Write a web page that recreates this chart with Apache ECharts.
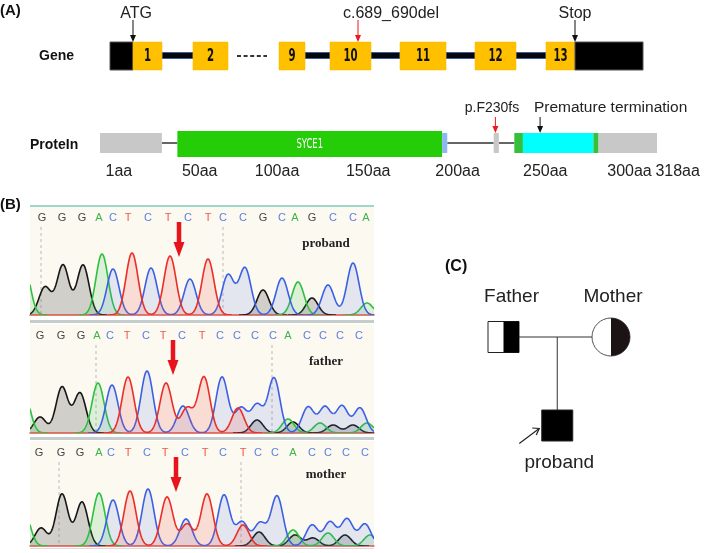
<!DOCTYPE html>
<html><head><meta charset="utf-8">
<script src="https://cdn.jsdelivr.net/npm/echarts@6/dist/echarts.min.js"></script>
<style>html,body{margin:0;padding:0;background:#fff}#c{width:709px;height:553px}</style>
</head><body><div id="c"></div>
<script>
// ---------- Panel A: gene (schematic units) ----------
const geneBlockStart = [0, 23, 83, 169, 220, 290, 365, 436, 465];
const geneBlockEnd   = [23, 52, 118, 195, 261, 336, 406, 465, 533];
const geneBlockType  = ['utr','exon','exon','exon','exon','exon','exon','exon','utr'];
const geneBlockLabel = ['', '1', '2', '9', '10', '11', '12', '13', ''];
const geneIntrons = [[52, 83], [195, 220], [261, 290], [336, 365], [406, 436]];
const geneGap = [[127, 157]];
const geneMarkPos = [23, 248, 465];
const geneMarkTextPos = [26, 281, 465];
const geneMarkText = ['ATG', 'c.689_690del', 'Stop'];
const geneMarkKind = ['site', 'mutation', 'site'];

// ---------- Panel A: protein (aa, schematic) ----------
const protDomainStart = [-8, 37, 191, 221, 233, 238, 279, 282];
const protDomainEnd   = [28, 191, 194, 224, 238, 279, 282, 316];
const protDomainType  = ['region', 'SYCE1', 'linker', 'region', 'edge', 'frameshift', 'edge', 'region'];
const protLinks = [[28, 37], [194, 221], [224, 233]];
const aaTickLabels = ['1aa', '50aa', '100aa', '150aa', '200aa', '250aa', '300aa', '318aa'];
const aaTickPos = [3, 50, 95, 148, 200, 251, 300, 328];
const protMarkPos = [222, 248];
const protMarkTextPos = [220, 289];
const protMarkText = ['p.F230fs', 'Premature termination'];
const protMarkKind = ['mutation', 'site'];

// ---------- Panel B: chromatograms ----------
const probandBases = ['G','G','G','A','C','T','C','T','C','T','C','C','G','C','A','G','C','C','A'];
const probandBasePos = [12,32,52,69,83,98,118,138,158,178,193,213,233,252,265,282,303,323,336];
const probandG = [[15,28],[33,50],[53,50],[233,25],[282,17]];
const probandA = [[-6,50],[72,61],[268,33],[337,12]];
const probandC = [[83,46],[121,47],[160,36],[198,40],[215,47],[252,37],[298,30],[323,52]];
const probandT = [[102,62],[140,59],[178,56]];
const probandGuides = [11, 193];
const probandArrow = [149];

const fatherBases = ['G','G','G','A','C','T','C','T','C','T','C','C','C','C','A','C','C','C','C'];
const fatherBasePos = [10,31,51,67,80,97,116,133,152,172,190,207,225,243,258,277,293,310,329];
const fatherG = [[10,16],[32,46],[50,40],[227,13],[263,11],[303,8],[323,8]];
const fatherA = [[-6,40],[68,50],[258,14],[290,10],[337,10]];
const fatherC = [[82,48],[117,62],[153,27],[192,56],[211,25],[227,28],[244,55],[278,26],[295,26],[312,27],[330,25]];
const fatherT = [[98,56],[136,50],[157,25],[174,56],[208,25]];
const fatherGuides = [66, 242];
const fatherArrow = [143];

const motherBases = ['G','G','G','A','C','T','C','T','C','T','C','T','C','C','A','C','C','C','C'];
const motherBasePos = [9,31,50,69,81,98,117,135,155,175,193,213,228,245,263,282,298,316,335];
const motherG = [[11,18],[32,52],[52,44],[229,14],[265,11],[283,8],[315,11]];
const motherA = [[-6,35],[69,53],[263,16],[298,13],[340,11]];
const motherC = [[83,46],[118,57],[156,27],[194,51],[212,24],[230,23],[247,50],[282,21],[300,24],[317,27],[335,22]];
const motherT = [[100,55],[137,49],[157,22],[177,52],[213,21]];
const motherGuides = [29, 211];
const motherArrow = [146];

// ---------- Panel C: pedigree ----------
const pedigreeNames  = ['Father', 'Mother', 'proband'];
const pedigreeX      = [0, 2, 1];
const pedigreeGen    = [0, 0, 1];
const pedigreeSex    = ['M', 'F', 'M'];
const pedigreeStatus = ['carrier', 'carrier', 'affected'];
const pedigreeLinks  = [[0, 0, 2, 0], [1, 0, 1, 1]];

// ---------- styles ----------
const SANS = '"Liberation Sans", Arial, sans-serif';
const NARROW = '"DejaVu Sans", "Liberation Sans", sans-serif';
const SERIF = '"Liberation Serif", "Times New Roman", serif';
const BASE_COLORS = {G:'#444444', A:'#3db54a', C:'#5a7fe0', T:'#ef5a4c'};
const TRACE_COLORS = {G:'#161616', A:'#2cc040', C:'#3c60e4', T:'#ea2e28'};
const TRACE_FILL = {G:'rgba(110,110,110,0.30)', A:'rgba(60,190,80,0.16)', C:'rgba(90,120,220,0.15)', T:'rgba(235,80,70,0.17)'};
const DOMAIN_STYLE = {
  region: {fill:'#c8c8c8', lo:4, hi:24},
  SYCE1: {fill:'#25cc08', lo:0, hi:26},
  linker: {fill:'#8db6f2', lo:4, hi:24},
  edge: {fill:'#35bf3a', lo:4, hi:24},
  frameshift: {fill:'#00ffff', lo:4, hi:24}
};
const MARK_COLOR = {site:'#111', mutation:'#f01818'};
const CHROM_MIN = 0, CHROM_MAX = 344;
const SIGMA = 6;

function arrowDown(x, yTop, yBot, color, shaftW, headW, headH) {
  return [
    {type:'rect', shape:{x:x - shaftW/2, y:yTop, width:shaftW, height:Math.max(0, yBot - yTop - headH + 0.5)}, style:{fill:color}},
    {type:'polygon', shape:{points:[[x - headW/2, yBot - headH], [x + headW/2, yBot - headH], [x, yBot]]}, style:{fill:color}}
  ];
}
function condensedText(text, cx, cy, size, fill, weight, sx, sy) {
  return {type:'text', x:cx, y:cy, scaleX:sx, scaleY:sy,
    style:{text:text, x:0, y:0, align:'center', verticalAlign:'middle', fill:fill, font:(weight ? weight + ' ' : '') + size + 'px ' + NARROW}};
}

const series = [];

// gene introns
series.push({type:'custom', xAxisIndex:0, yAxisIndex:0, data:geneIntrons,
  renderItem:(p, api) => {
    const a = api.coord([api.value(0), 17.5]), b = api.coord([api.value(1), 11.5]);
    return {type:'rect', shape:{x:a[0], y:a[1], width:b[0]-a[0], height:b[1]-a[1]}, style:{fill:'#06060f', stroke:'#3d5d9a', lineWidth:1}};
  }});
// gene gap dashes
series.push({type:'custom', xAxisIndex:0, yAxisIndex:0, data:geneGap,
  renderItem:(p, api) => {
    const a = api.coord([api.value(0), 14]), b = api.coord([api.value(1), 14]);
    return {type:'line', shape:{x1:a[0], y1:a[1], x2:b[0], y2:b[1]}, style:{stroke:'#333', lineWidth:2, lineDash:[4, 2.6]}};
  }});
// gene blocks
series.push({type:'custom', xAxisIndex:0, yAxisIndex:0, data:geneBlockStart.map((s, i) => [s, geneBlockEnd[i]]),
  renderItem:(p, api) => {
    const i = p.dataIndex;
    const a = api.coord([geneBlockStart[i], 28]), b = api.coord([geneBlockEnd[i], 0]);
    const isExon = geneBlockType[i] === 'exon';
    const ch = [{type:'rect', shape:{x:a[0], y:a[1], width:b[0]-a[0], height:b[1]-a[1]},
      style:{fill: isExon ? '#ffc000' : '#000', stroke: isExon ? '#f5b800' : '#555', lineWidth: isExon ? 0.5 : 1}}];
    if (geneBlockLabel[i]) ch.push(condensedText(geneBlockLabel[i], (a[0]+b[0])/2, (a[1]+b[1])/2 + 1, 15, '#111', 'bold', 0.68, 1.15));
    return {type:'group', children:ch};
  }});
// gene marks
series.push({type:'custom', xAxisIndex:0, yAxisIndex:0, data:geneMarkPos.map(v => [v, 28]),
  renderItem:(p, api) => {
    const i = p.dataIndex;
    const top = api.coord([geneMarkPos[i], 28]);
    const t = api.coord([geneMarkTextPos[i], 28]);
    const col = MARK_COLOR[geneMarkKind[i]];
    return {type:'group', children:[
      ...arrowDown(top[0], top[1] - 22, top[1], col, 1, 6, 7),
      {type:'text', style:{text:geneMarkText[i], x:t[0], y:top[1] - 28, align:'center', verticalAlign:'middle', fill:'#222', font:'16px ' + SANS}}
    ]};
  }});

// protein links
series.push({type:'custom', xAxisIndex:1, yAxisIndex:1, data:protLinks,
  renderItem:(p, api) => {
    const a = api.coord([api.value(0), 14]), b = api.coord([api.value(1), 14]);
    return {type:'line', shape:{x1:a[0], y1:a[1], x2:b[0], y2:b[1]}, style:{stroke:'#333', lineWidth:1.5}};
  }});
// protein domains
series.push({type:'custom', xAxisIndex:1, yAxisIndex:1, data:protDomainStart.map((s, i) => [s, protDomainEnd[i]]),
  renderItem:(p, api) => {
    const i = p.dataIndex;
    const st = DOMAIN_STYLE[protDomainType[i]];
    const a = api.coord([protDomainStart[i], st.hi]), b = api.coord([protDomainEnd[i], st.lo]);
    const ch = [{type:'rect', shape:{x:a[0], y:a[1], width:b[0]-a[0], height:b[1]-a[1]}, style:{fill:st.fill}}];
    if (protDomainType[i] === 'SYCE1') ch.push(condensedText('SYCE1', (a[0]+b[0])/2, (a[1]+b[1])/2, 12, '#ffffff', '', 0.7, 1.2));
    return {type:'group', children:ch};
  }});
// aa labels
series.push({type:'custom', xAxisIndex:1, yAxisIndex:1, data:aaTickPos.map(v => [v, 0]),
  renderItem:(p, api) => {
    const c = api.coord([aaTickPos[p.dataIndex], 0]);
    return {type:'text', style:{text:aaTickLabels[p.dataIndex], x:c[0], y:c[1] + 15, align:'center', verticalAlign:'middle', fill:'#222', font:'16px ' + SANS}};
  }});
// protein marks
series.push({type:'custom', xAxisIndex:1, yAxisIndex:1, data:protMarkPos.map(v => [v, 24]),
  renderItem:(p, api) => {
    const i = p.dataIndex;
    const c = api.coord([protMarkPos[i], 24]);
    const t = api.coord([protMarkTextPos[i], 26]);
    const col = MARK_COLOR[protMarkKind[i]];
    return {type:'group', children:[
      ...arrowDown(c[0], t[1] - 14, c[1], col, 1, 6, 7),
      {type:'text', style:{text:protMarkText[i], x:t[0], y:t[1] - 23, align:'center', verticalAlign:'middle', fill:'#222',
        font:(protMarkKind[i] === 'mutation' ? '14px ' : '15.5px ') + SANS}}
    ]};
  }});

// chromatogram panels
const panels = [
  {axis:2, name:'proband', bases:probandBases, pos:probandBasePos, peaks:{G:probandG, A:probandA, C:probandC, T:probandT}, guides:probandGuides, arrow:probandArrow},
  {axis:3, name:'father', bases:fatherBases, pos:fatherBasePos, peaks:{G:fatherG, A:fatherA, C:fatherC, T:fatherT}, guides:fatherGuides, arrow:fatherArrow},
  {axis:4, name:'mother', bases:motherBases, pos:motherBasePos, peaks:{G:motherG, A:motherA, C:motherC, T:motherT}, guides:motherGuides, arrow:motherArrow}
];
const PANEL_H = [109, 109, 105];

function channelRender(peaks, key) {
  return function (params, api) {
    const i = params.dataIndex;
    const pk = peaks[i][0];
    let L = pk - 4 * SIGMA, R = pk + 4 * SIGMA;
    if (i > 0) L = Math.max(L, (peaks[i - 1][0] + pk) / 2);
    if (i < peaks.length - 1) R = Math.min(R, (peaks[i + 1][0] + pk) / 2);
    L = Math.max(L, CHROM_MIN); R = Math.min(R, CHROM_MAX);
    if (R <= L) return null;
    const f = x => peaks.reduce((s, q) => s + q[1] * Math.exp(-((x - q[0]) * (x - q[0])) / (2 * SIGMA * SIGMA)), 0);
    const n = Math.max(2, Math.ceil((R - L) / 0.5));
    const pts = [];
    for (let k = 0; k <= n; k++) { const x = L + (R - L) * k / n; pts.push(api.coord([x, f(x)])); }
    const b0 = api.coord([L, 0]), b1 = api.coord([R, 0]);
    return {type:'group', children:[
      {type:'polygon', shape:{points:[b0].concat(pts, [b1])}, style:{fill:TRACE_FILL[key]}},
      {type:'polyline', shape:{points:pts}, style:{stroke:TRACE_COLORS[key], lineWidth:1.6, fill:'none'}}
    ]};
  };
}

panels.forEach((pn, k) => {
  const ax = pn.axis;
  const ymax = PANEL_H[k];
  series.push({type:'custom', xAxisIndex:ax, yAxisIndex:ax, data:pn.guides.map(v => [v, 0]),
    renderItem:(p, api) => {
      const b = api.coord([pn.guides[p.dataIndex], 0]);
      const t = api.coord([pn.guides[p.dataIndex], ymax]);
      return {type:'line', shape:{x1:b[0], y1:t[1] + 21, x2:b[0], y2:b[1]}, style:{stroke:'#b8b8b8', lineWidth:1, lineDash:[3, 3]}};
    }});
  ['G', 'A', 'C', 'T'].forEach(key => {
    const pk = pn.peaks[key];
    series.push({type:'custom', xAxisIndex:ax, yAxisIndex:ax, clip:true, data:pk, renderItem:channelRender(pk, key)});
  });
  series.push({type:'custom', xAxisIndex:ax, yAxisIndex:ax, data:pn.pos.map(v => [v, 0]),
    renderItem:(p, api) => {
      const c = api.coord([pn.pos[p.dataIndex], ymax]);
      const b = pn.bases[p.dataIndex];
      return {type:'text', style:{text:b, x:c[0], y:c[1] + 12, align:'center', verticalAlign:'middle', fill:BASE_COLORS[b], font:'11px ' + SANS}};
    }});
  series.push({type:'custom', xAxisIndex:ax, yAxisIndex:ax, data:pn.arrow.map(v => [v, 0]),
    renderItem:(p, api) => {
      const t = api.coord([pn.arrow[p.dataIndex], ymax]);
      return {type:'group', children:arrowDown(t[0], t[1] + 16, t[1] + 51, '#e8141c', 4.5, 11, 15)};
    }});
  series.push({type:'custom', xAxisIndex:ax, yAxisIndex:ax, data:[[296, 71]],
    renderItem:(p, api) => {
      const c = api.coord([296, 71]);
      return {type:'text', style:{text:pn.name, x:c[0], y:c[1], align:'center', verticalAlign:'middle', fill:'#222', font:'bold 13px ' + SERIF}};
    }});
});

// pedigree links
series.push({type:'custom', xAxisIndex:5, yAxisIndex:5, data:pedigreeLinks,
  renderItem:(p, api) => {
    const l = pedigreeLinks[p.dataIndex];
    const a = api.coord([l[0], l[1]]), b = api.coord([l[2], l[3]]);
    return {type:'line', shape:{x1:a[0], y1:a[1], x2:b[0], y2:b[1]}, style:{stroke:'#333', lineWidth:1}};
  }});
// pedigree individuals
series.push({type:'custom', xAxisIndex:5, yAxisIndex:5, data:pedigreeX.map((x, i) => [x, pedigreeGen[i]]),
  renderItem:(p, api) => {
    const i = p.dataIndex;
    const c = api.coord([pedigreeX[i], pedigreeGen[i]]);
    const ch = [];
    if (pedigreeSex[i] === 'M') {
      const s = 31, x0 = c[0] - s / 2, y0 = c[1] - s / 2;
      ch.push({type:'rect', shape:{x:x0, y:y0, width:s, height:s}, style:{fill:pedigreeStatus[i] === 'affected' ? '#000' : '#fff', stroke:'#222', lineWidth:1}});
      if (pedigreeStatus[i] === 'carrier') ch.push({type:'rect', shape:{x:c[0], y:y0, width:s / 2, height:s}, style:{fill:'#000'}});
    } else {
      const r = 19;
      ch.push({type:'circle', shape:{cx:c[0], cy:c[1], r:r}, style:{fill:'#fff', stroke:'#555', lineWidth:1}});
      if (pedigreeStatus[i] === 'carrier') ch.push({type:'sector', shape:{cx:c[0], cy:c[1], r0:0, r:r, startAngle:-Math.PI / 2, endAngle:Math.PI / 2, clockwise:true}, style:{fill:'#1c1414'}});
    }
    const below = pedigreeGen[i] > 0;
    ch.push({type:'text', style:{text:pedigreeNames[i], x:c[0] + (pedigreeSex[i] === 'M' && !below ? 8 : 2), y:below ? c[1] + 37 : c[1] - 40,
      align:'center', verticalAlign:'middle', fill:'#222', font:'19px ' + SANS}});
    if (pedigreeStatus[i] === 'affected') {
      const x1 = c[0] - 38, y1 = c[1] + 18, x2 = c[0] - 18, y2 = c[1] + 3;
      ch.push({type:'line', shape:{x1:x1, y1:y1, x2:x2, y2:y2}, style:{stroke:'#222', lineWidth:1.2}});
      ch.push({type:'polyline', shape:{points:[[x2 - 7, y2 - 0.5], [x2, y2], [x2 - 3, y2 + 6.5]]}, style:{stroke:'#222', lineWidth:1.2, fill:'none'}});
    }
    return {type:'group', children:ch};
  }});

const chromGrid = (top, h) => ({left:30, top:top, width:344, height:h, show:true, backgroundColor:'#fcf9f1', borderWidth:0, outerBoundsMode:'none'});
const hiddenX = (g, min, max) => ({gridIndex:g, type:'value', min:min, max:max, show:false});
const hiddenY = (g, min, max, inv) => ({gridIndex:g, type:'value', min:min, max:max, show:false, inverse:!!inv});
const chromX = g => ({gridIndex:g, type:'value', min:CHROM_MIN, max:CHROM_MAX, show:true,
  axisLine:{show:true, onZero:false, lineStyle:{color:'#e8503c', width:1.5}}, axisTick:{show:false}, axisLabel:{show:false}, splitLine:{show:false}});

const option = {
  animation:false,
  backgroundColor:'#ffffff',
  textStyle:{fontFamily:SANS},
  grid:[
    {left:110, top:42, width:533, height:28, outerBoundsMode:'none'},
    {left:100, top:131, width:557, height:26, outerBoundsMode:'none'},
    chromGrid(206, PANEL_H[0]),
    chromGrid(324, PANEL_H[1]),
    chromGrid(441, PANEL_H[2]),
    {left:503.5, top:337, width:107.5, height:88.5, outerBoundsMode:'none'}
  ],
  xAxis:[hiddenX(0, 0, 533), hiddenX(1, -8, 316), chromX(2), chromX(3), chromX(4), hiddenX(5, 0, 2)],
  yAxis:[hiddenY(0, 0, 28), hiddenY(1, 0, 26), hiddenY(2, 0, PANEL_H[0]), hiddenY(3, 0, PANEL_H[1]), hiddenY(4, 0, PANEL_H[2]), hiddenY(5, 0, 1, true)],
  graphic:[
    {type:'text', x:0, y:11, style:{text:'(A)', font:'bold 15px ' + SANS, fill:'#111', verticalAlign:'middle'}},
    {type:'text', x:39, y:56, style:{text:'Gene', font:'bold 14px ' + SANS, fill:'#111', verticalAlign:'middle'}},
    {type:'text', x:30, y:145, style:{text:'ProteIn', font:'bold 14px ' + SANS, fill:'#111', verticalAlign:'middle'}},
    {type:'text', x:0, y:205, style:{text:'(B)', font:'bold 15px ' + SANS, fill:'#111', verticalAlign:'middle'}},
    {type:'text', x:445, y:267, style:{text:'(C)', font:'bold 16px ' + SANS, fill:'#111', verticalAlign:'middle'}},
    {type:'rect', shape:{x:30, y:205, width:344, height:2}, style:{fill:'#9fd7cd'}, z:10},
    {type:'rect', shape:{x:30, y:320, width:344, height:3}, style:{fill:'#c4cccc'}, z:10},
    {type:'rect', shape:{x:30, y:437, width:344, height:3}, style:{fill:'#c4cccc'}, z:10},
    {type:'rect', shape:{x:30, y:548, width:344, height:1}, style:{fill:'#d8dcdc'}, z:10}
  ],
  series:series
};
const chart = echarts.init(document.getElementById('c'), null, {renderer:'canvas'});
chart.setOption(option);
</script></body></html>
